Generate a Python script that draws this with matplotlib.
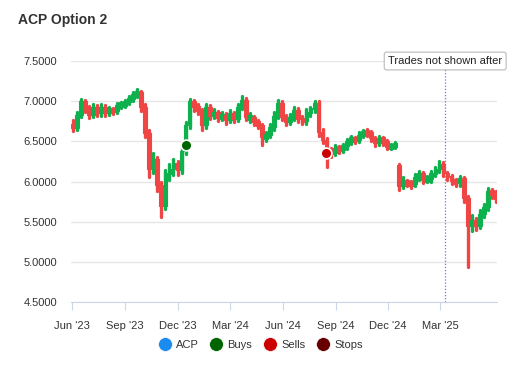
import matplotlib
matplotlib.use("Agg")
import matplotlib.pyplot as plt
import matplotlib.dates as mdates
from matplotlib.lines import Line2D
import pandas as pd
import numpy as np

plt.rcParams['font.family'] = ['Liberation Sans', 'DejaVu Sans']

week_start = "2023-06-02"
opens = [6.72,6.66,6.83,7.00,6.90,6.83,6.93,6.85,6.93,6.86,6.90,6.88,6.95,6.96,6.99,7.04,7.08,7.11,6.93,6.60,
         6.15,6.28,5.96,5.70,6.10,6.15,6.23,6.14,6.38,6.70,7.00,6.93,6.88,6.70,6.93,6.82,6.86,6.79,6.83,6.77,
         6.85,6.78,6.93,7.02,6.80,6.80,6.74,6.70,6.55,6.58,6.68,6.82,6.98,6.80,6.74,6.80,6.89,6.78,6.75,6.86,
         6.90,6.98,6.62,6.52,6.38,6.36,6.42,6.40,6.44,6.50,6.54,6.52,6.58,6.62,6.61,6.54,6.48,6.54,6.50,6.43,
         6.44,6.20,5.95,6.00,5.98,5.97,6.05,6.10,6.02,6.03,6.10,6.15,6.22,6.10,6.06,6.01,5.98,6.04,5.80,5.45,
         5.52,5.45,5.60,5.68,5.88,5.85]
closes = [6.66,6.83,7.00,6.90,6.83,6.93,6.85,6.93,6.86,6.90,6.88,6.95,6.96,6.99,7.04,7.08,7.11,6.93,6.60,6.15,
          6.28,5.96,5.70,6.10,6.15,6.23,6.14,6.38,6.70,7.00,6.93,6.88,6.70,6.93,6.82,6.86,6.79,6.83,6.77,6.85,
          6.78,6.93,7.02,6.80,6.80,6.74,6.70,6.55,6.58,6.68,6.82,6.98,6.80,6.74,6.80,6.89,6.78,6.75,6.86,6.90,
          6.98,6.62,6.52,6.38,6.36,6.42,6.40,6.44,6.50,6.54,6.52,6.58,6.62,6.61,6.54,6.48,6.54,6.50,6.43,6.44,
          6.47,5.95,6.00,5.98,5.97,6.05,6.10,6.02,6.03,6.10,6.15,6.22,6.10,6.06,6.01,5.98,6.04,5.80,5.45,5.52,
          5.45,5.60,5.68,5.88,5.85,5.78]
highs = [6.76,6.87,7.03,7.02,6.94,6.97,6.95,6.97,6.95,6.93,6.92,6.98,6.99,7.02,7.07,7.11,7.15,7.13,6.97,6.64,
         6.36,6.30,6.00,6.14,6.22,6.28,6.25,6.42,6.74,7.03,7.02,6.96,6.90,6.97,6.95,6.90,6.88,6.87,6.85,6.89,
         6.87,6.97,7.06,7.04,6.85,6.82,6.76,6.72,6.62,6.72,6.86,7.01,7.00,6.83,6.84,6.93,6.91,6.81,6.90,6.93,
         7.00,7.00,6.65,6.54,6.42,6.45,6.44,6.47,6.53,6.57,6.56,6.61,6.64,6.65,6.63,6.56,6.57,6.56,6.52,6.47,
         6.49,6.22,6.05,6.02,6.01,6.09,6.13,6.12,6.07,6.13,6.18,6.26,6.24,6.12,6.08,6.03,6.07,6.06,5.82,5.58,
         5.55,5.64,5.72,5.92,5.91,5.88]
lows = [6.63,6.64,6.80,6.86,6.79,6.80,6.81,6.82,6.82,6.83,6.84,6.85,6.91,6.93,6.96,7.00,7.05,6.88,6.55,6.05,
        6.10,5.88,5.56,5.66,6.02,6.08,6.08,6.10,6.34,6.66,6.88,6.84,6.64,6.67,6.78,6.79,6.75,6.76,6.72,6.74,
        6.74,6.75,6.90,6.76,6.74,6.70,6.66,6.46,6.50,6.55,6.64,6.79,6.76,6.70,6.71,6.77,6.74,6.71,6.72,6.82,
        6.86,6.57,6.48,6.18,6.31,6.33,6.36,6.37,6.41,6.47,6.48,6.49,6.55,6.57,6.50,6.44,6.45,6.46,6.40,6.41,
        6.42,5.90,5.92,5.94,5.92,5.94,6.02,5.98,5.99,6.00,6.07,6.12,6.07,6.02,5.97,5.94,5.95,5.74,4.93,5.38,
        5.40,5.42,5.56,5.64,5.80,5.74]

buy_dates = ["2023-12-16"]
buy_prices = [6.45]
sell_dates = ["2024-08-15"]
sell_prices = [6.36]
cutoff_date = "2025-03-10"
cutoff_label = "Trades not shown after"

legend_labels = ["ACP", "Buys", "Sells", "Stops"]
legend_colors = ["#1a8cf0", "#006400", "#cc0000", "#660000"]

title = "ACP Option 2"

dates = pd.date_range(week_start, periods=len(closes), freq="7D")
o = np.array(opens); c = np.array(closes); h = np.array(highs); l = np.array(lows)
xd = mdates.date2num(dates)

GREEN = "#0db14e"
RED = "#f04545"

fig = plt.figure(figsize=(5.3, 3.8), dpi=100)
ax = fig.add_axes([71/530, 1-302/380, (497-71)/530, (302-61)/380])

up = c >= o
cols = np.where(up, GREEN, RED)
bottom = np.minimum(o, c)
height = np.maximum(np.abs(c - o), 0.06)
ax.vlines(xd, l, h, colors=cols, linewidth=2.4, zorder=3, capstyle="round")
ax.bar(xd, height, bottom=bottom - (height - np.abs(c - o)) / 2, width=6.6, color=cols,
       linewidth=0.8, edgecolor=cols, zorder=3)

ax.scatter(mdates.date2num(pd.to_datetime(buy_dates)), buy_prices, s=60, color="#006400",
           edgecolor="white", linewidth=1.2, zorder=5)
ax.scatter(mdates.date2num(pd.to_datetime(sell_dates)), sell_prices, s=60, color="#cc0000",
           edgecolor="white", linewidth=1.2, zorder=5)

cx = mdates.date2num(pd.Timestamp(cutoff_date))
ax.axvline(cx, color="#7b68ee", linestyle=(0, (1, 1.5)), linewidth=0.9, zorder=2)
ax.annotate(cutoff_label, xy=(cx, 7.5), ha="center", va="center", fontsize=8, color="#222222",
            annotation_clip=False, zorder=6,
            bbox=dict(boxstyle="round,pad=0.35,rounding_size=0.2", fc="white", ec="#bbbbbb", lw=0.8))

ax.set_ylim(4.5, 7.5)
ax.set_xlim(mdates.date2num(pd.Timestamp("2023-05-30")), mdates.date2num(pd.Timestamp("2025-06-08")))
ax.set_yticks([4.5, 5.0, 5.5, 6.0, 6.5, 7.0, 7.5])
ax.yaxis.set_major_formatter(matplotlib.ticker.FormatStrFormatter("%.4f"))
ax.grid(axis="y", color="#e6e6e6", linewidth=1)
ax.set_axisbelow(True)

ticks = pd.to_datetime(["2023-06-01", "2023-09-01", "2023-12-01", "2024-03-01", "2024-06-01",
                        "2024-09-01", "2024-12-01", "2025-03-01"])
ax.set_xticks(mdates.date2num(ticks))
ax.set_xticklabels([t.strftime("%b '%y") for t in ticks])

for s in ["top", "right", "left"]:
    ax.spines[s].set_visible(False)
ax.spines["bottom"].set_color("#ccd6eb")
ax.tick_params(axis="y", length=0, labelsize=8, labelcolor="#333333", pad=10)
ax.tick_params(axis="x", length=6, color="#ccd6eb", labelsize=8, labelcolor="#333333", pad=8)

fig.text(18/530, 1-20/380, title, fontsize=10, fontweight="bold", color="#333333", va="center")

handles = [Line2D([0], [0], marker="o", linestyle="none", markersize=10, markerfacecolor=col,
                  markeredgecolor="white", markeredgewidth=0.5) for col in legend_colors]
fig.legend(handles, legend_labels, loc="center", bbox_to_anchor=(258/530, 1-345/380), ncol=4,
           frameon=False, fontsize=8, handletextpad=0.0, columnspacing=0.6, labelcolor="#333333")

fig.savefig("out.png", dpi=100)
